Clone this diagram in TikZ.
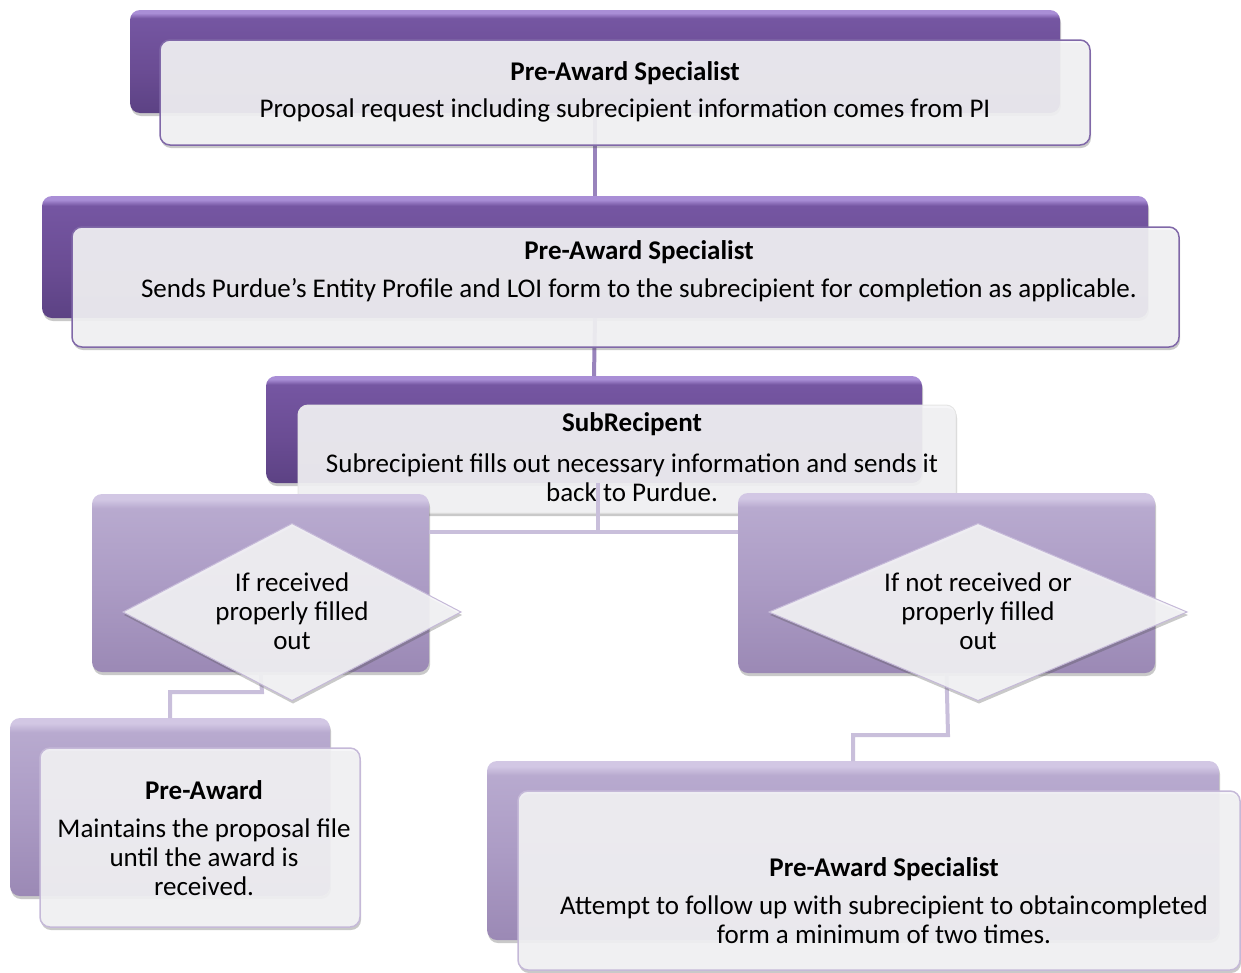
\documentclass[tikz,border=0pt]{standalone}
\usepackage{fontspec}
\setmainfont{Carlito}
\usetikzlibrary{shapes.geometric,shadows}
\definecolor{dRim}{HTML}{A98ED6}
\definecolor{dTop}{HTML}{7556A2}
\definecolor{dMid}{HTML}{6A4C93}
\definecolor{dBot}{HTML}{5C4284}
\definecolor{lRim}{HTML}{D2C7E4}
\definecolor{lTop}{HTML}{B8AACF}
\definecolor{lMid}{HTML}{AC9CC5}
\definecolor{lBot}{HTML}{9B89B5}
\definecolor{frontFill}{HTML}{F5F5F7}
\definecolor{dBorder}{HTML}{8068A8}
\definecolor{lBorder}{HTML}{C5B9D8}
\definecolor{dLine}{HTML}{9883BC}
\definecolor{lLine}{HTML}{C9BFDB}
\pgfdeclareverticalshading{darkbox}{100bp}{color(0bp)=(dBot); color(25bp)=(dBot); color(45bp)=(dMid); color(71bp)=(dTop); color(73.5bp)=(dRim); color(75bp)=(dRim); color(100bp)=(dRim)}
\pgfdeclareverticalshading{lightbox}{100bp}{color(0bp)=(lBot); color(25bp)=(lBot); color(50bp)=(lMid); color(71bp)=(lTop); color(73.5bp)=(lRim); color(75bp)=(lRim); color(100bp)=(lRim)}
\begin{document}
\begin{tikzpicture}[x=1pt,y=-1pt,
  every node/.style={inner sep=0pt,outer sep=0pt},
  shadowed/.style={drop shadow={shadow xshift=1pt,shadow yshift=-3pt,opacity=0.3,fill=black!70}},
  backdark/.style={rectangle,rounded corners=10pt,shading=darkbox,shadowed},
  backlight/.style={rectangle,rounded corners=10pt,shading=lightbox,shadowed},
  frontdark/.style={rectangle,rounded corners=10pt,fill=frontFill,fill opacity=0.9,draw=dBorder,line width=1.5pt,shadowed},
  frontpale/.style={rectangle,rounded corners=10pt,fill=frontFill,fill opacity=0.9,draw=white!90!black,line width=1pt,shadowed},
  frontlight/.style={rectangle,rounded corners=10pt,fill=frontFill,fill opacity=0.9,draw=lBorder,line width=1.5pt,shadowed},
  decision/.style={diamond,fill=frontFill,fill opacity=0.9,draw=lBorder,line width=1pt,shadowed},
  txt/.style={align=center,font=\fontsize{27}{29}\selectfont,text=black},
  upline/.style={draw=dLine,line width=4pt},
  lowline/.style={draw=lLine,line width=4pt}
]
\useasboundingbox (0,0) rectangle (1241,972);

% top back boxes
\node[backdark,minimum width=930pt,minimum height=103pt] (b1back) at (595,61.5) {};
\node[backdark,minimum width=1106pt,minimum height=122pt] (b2back) at (595,257) {};
\node[backdark,minimum width=656pt,minimum height=107pt] (b3back) at (594,429.5) {};

% connectors between upper boxes
\draw[upline] (b1back.south) -- (b2back.north);
\draw[upline] (b2back.south) -- (b3back.north);

% front boxes
\node[frontdark,minimum width=930pt,minimum height=105pt] (b1) at (625,92.5) {};
\node[txt] (t1) at (625,91.5) {\textbf{Pre-Award Specialist}\\[8pt]Proposal request including subrecipient information comes from PI};

\node[frontdark,minimum width=1107pt,minimum height=120pt] (b2) at (625.5,287) {};
\node[txt] (t2) at (639,271) {\textbf{Pre-Award Specialist}\\[9pt]Sends Purdue's Entity Profile and LOI form to the subrecipient for completion as applicable.};

\node[frontpale,minimum width=658pt,minimum height=108pt] (b3) at (627,459) {};
\node[txt] (t3) at (632,457) {\textbf{SubRecipent}\\[12pt]Subrecipient fills out necessary information and sends it\\back to Purdue.};

% junction below box 3
\coordinate (j) at (598,532);
\draw[lowline] (j |- b3back.south) -- (j);

% decision boxes
\node[backlight,minimum width=337pt,minimum height=178pt] (lbox) at (260.5,583) {};
\node[backlight,minimum width=417pt,minimum height=180pt] (rbox) at (946.5,583) {};
\draw[lowline] (lbox.east |- j) -- (rbox.west |- j);

% lower connectors
\coordinate (lj) at (262,692);
\coordinate (rj) at (948,735);
\node[backlight,minimum width=320pt,minimum height=178pt] (lbback) at (170,807) {};
\node[backlight,minimum width=732pt,minimum height=179pt] (rbback) at (853,850.5) {};
\draw[lowline] (lbox.south) -- (lj) -| (lbback.north);
\draw[lowline] (rbox.south) -- (rj) -| (rbback.north);

% diamonds
\node[decision,minimum width=338pt,minimum height=177pt] (d1) at (292,612) {};
\node[txt] (d1t) at (292,611.5) {If received\\properly filled\\out};
\node[decision,minimum width=418pt,minimum height=177pt] (d2) at (978,612) {};
\node[txt] (d2t) at (978,611.5) {If not received or\\properly filled\\out};

% bottom front boxes
\node[frontlight,minimum width=320pt,minimum height=179pt] (lb) at (200,837.5) {};
\node[txt] (lbt) at (204,838.5) {\textbf{Pre-Award}\\[9pt]Maintains the proposal file\\until the award is\\received.};
\node[frontlight,minimum width=722pt,minimum height=179pt] (rb) at (879,880.5) {};
\node[txt] (rbt) at (884,901) {\textbf{Pre-Award Specialist}\\[9pt]Attempt to follow up with subrecipient to obtain\hspace{1pt}completed\\form a minimum of two times.};
\end{tikzpicture}
\end{document}
